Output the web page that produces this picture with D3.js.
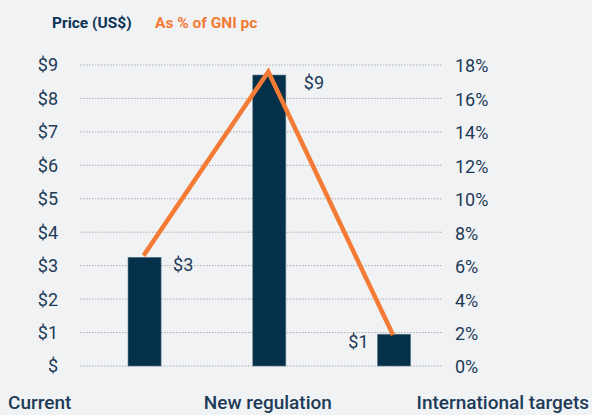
<!DOCTYPE html>
<html>
<head>
<meta charset="utf-8">
<script src="https://cdn.jsdelivr.net/npm/d3@7"></script>
<style>
  body { margin: 0; background: #f1f2f4; }
  svg { display: block; font-family: Roboto, "Noto Sans", sans-serif; }
</style>
</head>
<body>
<div id="chart"></div>
<script>
// chart data
const categories = ["Current", "New regulation", "International targets"];
const priceUSD = [3.25, 8.7, 0.95];
const priceLabels = ["$3", "$9", "$1"];
const pctGNI = [6.6, 17.6, 1.85];
const leftTicks = [0, 1, 2, 3, 4, 5, 6, 7, 8, 9];
const rightTicks = [0, 2, 4, 6, 8, 10, 12, 14, 16, 18];

const width = 592, height = 415;
const navy = "#04304a", orange = "#f47b35", textCol = "#1d3b57";

const svg = d3.select("#chart").append("svg")
    .attr("width", width)
    .attr("height", height);

svg.append("rect").attr("width", width).attr("height", height).attr("fill", "#f1f2f4");

const x = d3.scaleBand()
    .domain(categories)
    .range([82, 456.6])
    .paddingInner(0.735)
    .paddingOuter(0.369);

const yL = d3.scaleLinear().domain([0, 9]).range([366, 65]);
const yR = d3.scaleLinear().domain([0, 18]).range([366, 65]);

// gridlines
svg.append("g")
    .selectAll("line")
    .data(leftTicks)
    .join("line")
    .attr("x1", 80).attr("x2", 443)
    .attr("y1", d => yL(d)).attr("y2", d => yL(d))
    .attr("stroke", "#a9aeb4")
    .attr("stroke-width", 1)
    .attr("stroke-dasharray", "1.5,1.5");

// left axis labels
svg.append("g")
    .selectAll("text")
    .data(leftTicks)
    .join("text")
    .attr("x", 58)
    .attr("y", d => yL(d))
    .attr("dy", "0.36em")
    .attr("text-anchor", "end")
    .attr("fill", textCol)
    .style("font-size", "18px")
    .text(d => d === 0 ? "$" : "$" + d);

// right axis labels
svg.append("g")
    .selectAll("text")
    .data(rightTicks)
    .join("text")
    .attr("x", 455)
    .attr("y", d => yR(d) + 1)
    .attr("dy", "0.36em")
    .attr("fill", textCol)
    .style("font-size", "18px")
    .text(d => d + "%");

// bars
svg.append("g")
    .selectAll("rect")
    .data(categories)
    .join("rect")
    .attr("x", d => x(d))
    .attr("width", x.bandwidth())
    .attr("y", (d, i) => yL(priceUSD[i]))
    .attr("height", (d, i) => yL(0) - yL(priceUSD[i]))
    .attr("fill", navy)
    .attr("stroke", "#5f7a8c")
    .attr("stroke-width", 0.6);

// bar value labels
const labelOffset = [12, 18, -9];
svg.append("g")
    .selectAll("text")
    .data(categories)
    .join("text")
    .attr("x", (d, i) => labelOffset[i] > 0 ? x(d) + x.bandwidth() + labelOffset[i] : x(d) + labelOffset[i])
    .attr("y", (d, i) => yL(priceUSD[i]) + 7.5)
    .attr("dy", "0.36em")
    .attr("text-anchor", (d, i) => labelOffset[i] > 0 ? "start" : "end")
    .attr("fill", textCol)
    .style("font-size", "18px")
    .text((d, i) => priceLabels[i]);

// % of GNI line
const line = d3.line()
    .x((d, i) => x(categories[i]) + x.bandwidth() / 2 - 1)
    .y(d => yR(d));
svg.append("path")
    .datum(pctGNI)
    .attr("d", line)
    .attr("fill", "none")
    .attr("stroke", orange)
    .attr("stroke-width", 4.5)
    .attr("stroke-linejoin", "miter");

// category labels
svg.append("g")
    .selectAll("text")
    .data(categories)
    .join("text")
    .attr("x", (d, i) => i === 0 ? 8 : i === 1 ? x(d) + x.bandwidth() / 2 - 1.5 : 589)
    .attr("y", 409)
    .attr("text-anchor", (d, i) => ["start", "middle", "end"][i])
    .attr("fill", textCol)
    .style("font-size", "19px")
    .style("font-weight", 500)
    .text(d => d);

// legend
svg.append("text")
    .attr("x", 52).attr("y", 28)
    .attr("fill", "#0b3354")
    .style("font-size", "15.5px")
    .style("font-weight", "bold")
    .text("Price (US$)");
svg.append("text")
    .attr("x", 155).attr("y", 28)
    .attr("fill", orange)
    .style("font-size", "15.5px")
    .style("font-weight", "bold")
    .text("As % of GNI pc");
</script>
</body>
</html>
